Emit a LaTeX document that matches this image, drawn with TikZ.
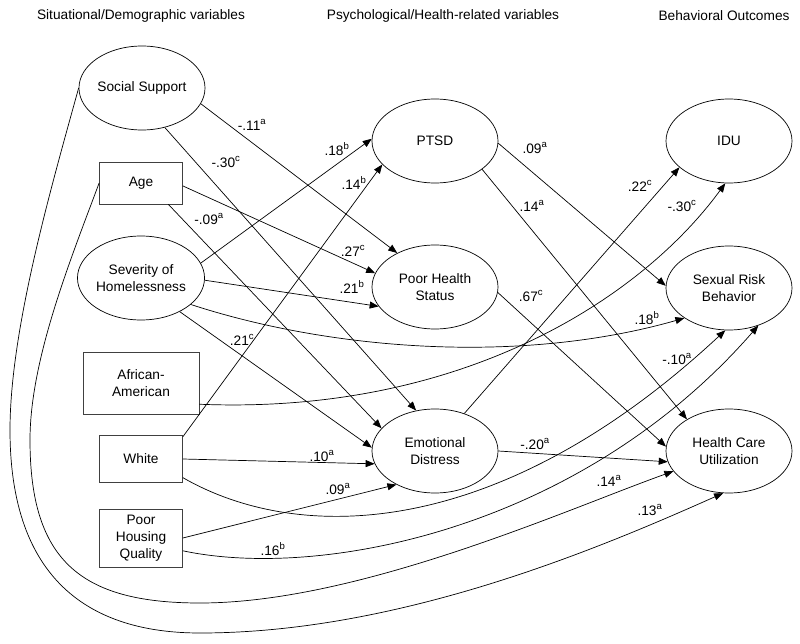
\documentclass[tikz,border=0pt]{standalone}
\usepackage{fontspec}
\setmainfont{Liberation Sans}
\usetikzlibrary{shapes.geometric,arrows.meta}

\begin{document}
\begin{tikzpicture}[x=1pt,y=-1pt,
  font=\fontsize{13.7}{17}\selectfont,
  ell/.style={draw,ellipse,line width=0.7pt,inner sep=0pt,minimum width=126pt,minimum height=84pt,align=center},
  box/.style={draw=black!75,line width=0.7pt,rectangle,inner sep=0pt,align=center},
  link/.style={->,>={Triangle[length=9pt,width=7pt]},line width=0.7pt},
  lbl/.style={inner sep=0pt}]
\useasboundingbox (0,0) rectangle (800,644);
\node (h1) at (141,16) {Situational/Demographic variables};
\node (h2) at (443,16) {Psychological/Health-related variables};
\node (h3) at (724,16) {Behavioral Outcomes};
\node[ell] (ss) at (142,88) {Social Support};
\node[box,minimum width=83pt,minimum height=42pt] (age) at (141,183) {Age};
\node[ell] (sev) at (141,278) {Severity of\\Homelessness};
\node[box,minimum width=116pt,minimum height=62pt] (afam) at (141,383) {African-\\American};
\node[box,minimum width=83pt,minimum height=47pt] (white) at (141,459) {White};
\node[box,minimum width=83pt,minimum height=58pt] (housing) at (141,538) {Poor\\Housing\\Quality};
\node[ell] (ptsd) at (435,141) {PTSD};
\node[ell] (phs) at (435,287) {Poor Health\\Status};
\node[ell] (ed) at (435,451) {Emotional\\Distress};
\node[ell] (idu) at (729,141) {IDU};
\node[ell] (srb) at (729,288) {Sexual Risk\\Behavior};
\node[ell] (hcu) at (729,451) {Health Care\\Utilization};
\draw[link] (ss.-15) -- (phs.138);
\draw[link] (ss.-60) -- (ed.115);
\draw[link] (age.-38) -- (ed.157);
\draw[link] (age.-4) -- (phs.167);
\draw[link] (sev.14) -- (ptsd.178);
\draw[link] (sev.-2) -- (phs.199);
\draw[link] (sev.-41) -- (ed.177);
\draw[link] (sev.-28) .. controls (330,350) and (520,365) .. (srb.214);
\draw[link] (afam.-20) .. controls (460,415) and (640,300) .. (idu.265);
\draw[link] (white.28) -- (ptsd.204);
\draw[link] (white.east) -- (ed.192);
\draw[link] (white.-24) .. controls (300,545) and (500,540) .. (srb.265);
\draw[link] (housing.east) -- (ed.221);
\draw[link] (housing.-17) .. controls (320,580) and (580,530) .. (srb.-52);
\draw[link] (age.west) .. controls (70,261) and (30,360) .. (30,440)
  .. controls (30,560) and (80,603) .. (200,603)
  .. controls (360,603) and (570,508) .. (hcu.200);
\draw[link] (ss.west) .. controls (51,188) and (10,330) .. (10,430)
  .. controls (10,580) and (90,633) .. (200,633)
  .. controls (400,633) and (600,548) .. (hcu.262);
\draw[link] (ed.52) -- (idu.208);
\draw[link] (ptsd.-2) -- (srb.178);
\draw[link] (ptsd.-31) -- (hcu.143);
\draw[link] (phs.-5) -- (hcu.176);
\draw[link] (ed.east) -- (hcu.190);
\node[lbl] (l1) at (252,125) {-.11\textsuperscript{a}};
\node[lbl] (l2) at (226,162) {-.30\textsuperscript{c}};
\node[lbl] (l3) at (337,149) {.18\textsuperscript{b}};
\node[lbl] (l4) at (354,183) {.14\textsuperscript{b}};
\node[lbl] (l5) at (209,219) {-.09\textsuperscript{a}};
\node[lbl] (l6) at (353,251) {.27\textsuperscript{c}};
\node[lbl] (l7) at (352,287) {.21\textsuperscript{b}};
\node[lbl] (l8) at (242,340) {.21\textsuperscript{c}};
\node[lbl] (l9) at (322,456) {.10\textsuperscript{a}};
\node[lbl] (l10) at (338,489) {.09\textsuperscript{a}};
\node[lbl] (l11) at (273,549) {.16\textsuperscript{b}};
\node[lbl] (l12) at (535,148) {.09\textsuperscript{a}};
\node[lbl] (l13) at (532,206) {.14\textsuperscript{a}};
\node[lbl] (l14) at (531,296) {.67\textsuperscript{c}};
\node[lbl] (l15) at (640,186) {.22\textsuperscript{c}};
\node[lbl] (l16) at (682,206) {-.30\textsuperscript{c}};
\node[lbl] (l17) at (647,318) {.18\textsuperscript{b}};
\node[lbl] (l18) at (677,359) {-.10\textsuperscript{a}};
\node[lbl] (l19) at (535,444) {-.20\textsuperscript{a}};
\node[lbl] (l20) at (609,481) {.14\textsuperscript{a}};
\node[lbl] (l21) at (650,510) {.13\textsuperscript{a}};
\end{tikzpicture}
\end{document}
